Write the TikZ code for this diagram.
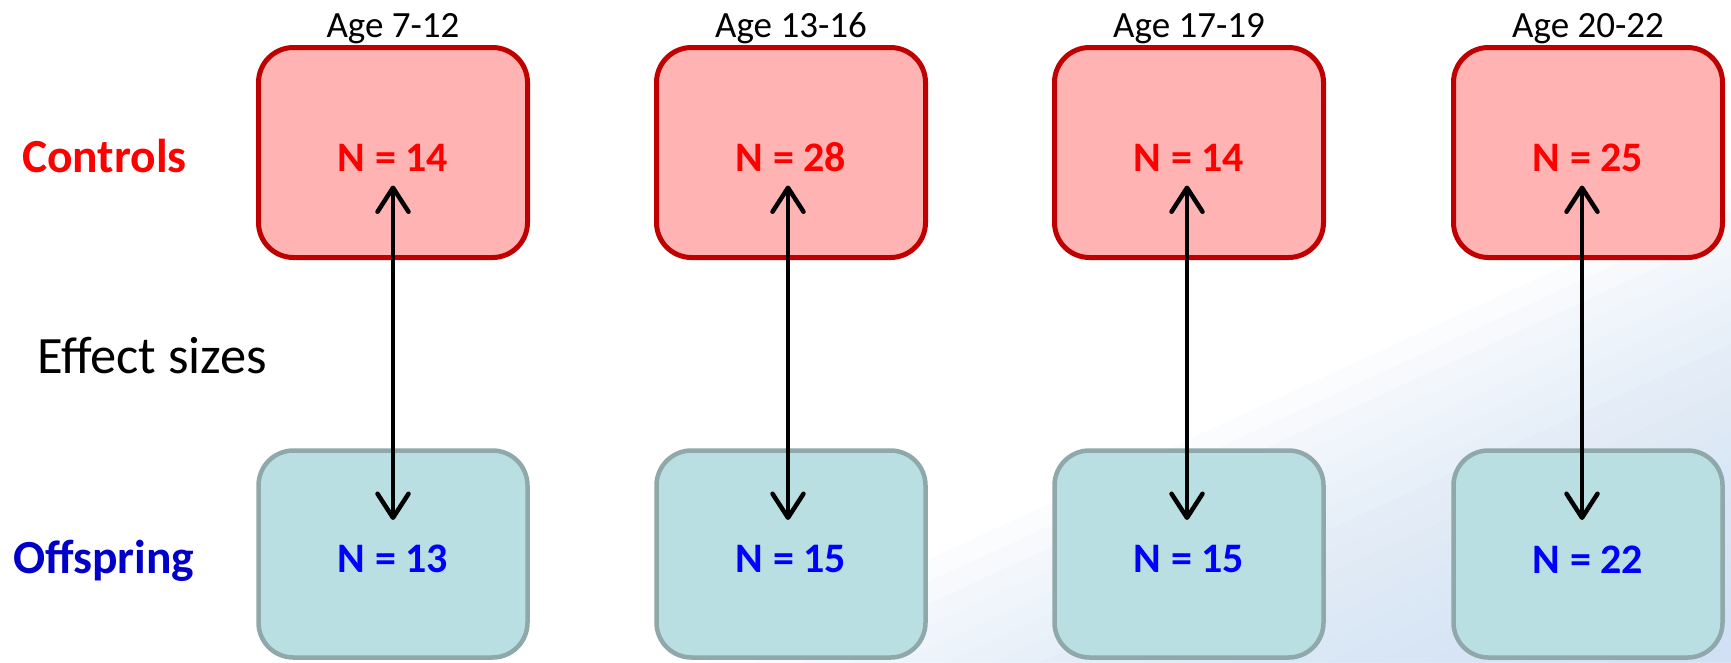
\documentclass[tikz,border=0pt]{standalone}
\usepackage{fontspec}
\setmainfont{Carlito}
\usetikzlibrary{arrows.meta,calc}
\definecolor{boxred}{RGB}{192,0,0}
\definecolor{fillred}{RGB}{255,179,179}
\definecolor{boxteal}{RGB}{143,168,170}
\definecolor{fillteal}{RGB}{185,223,226}
\definecolor{offblue}{RGB}{0,0,200}
\definecolor{bgblue}{RGB}{205,224,245}
\begin{document}
\begin{tikzpicture}[x=1pt,y=-1pt,
  ctrlbox/.style={draw=boxred, fill=fillred, line width=5pt, rounded corners=35pt,
    minimum width=269pt, minimum height=210pt, inner sep=0pt, text=red,
    text height=38pt, font=\fontsize{42}{50}\selectfont\bfseries},
  offbox/.style={draw=boxteal, fill=fillteal, line width=4.5pt, rounded corners=35pt,
    minimum width=269pt, minimum height=207pt, inner sep=0pt, text=blue,
    text height=38pt, font=\fontsize{42}{50}\selectfont\bfseries},
  agelabel/.style={anchor=base, inner sep=0pt, font=\fontsize{37}{44}\selectfont},
  rowlabel/.style={anchor=base west, inner sep=0pt, font=\fontsize{47.5}{56}\selectfont\bfseries},
  bgband/.style={fill=bgblue, opacity=0.08},
  effarrow/.style={line width=4pt,
    {Straight Barb[length=24pt,width=31pt,line width=4.5pt 0,round]}-{Straight Barb[length=24pt,width=31pt,line width=4.5pt 0,round]}}
]
\useasboundingbox (0,0) rectangle (1731,662);
\fill[white] (0,0) rectangle (1731,662);
% background: soft blue gradient in the lower right
\begin{scope}
  \clip (0,0) rectangle (1731,662);
  \foreach \s in {-60,-40,...,340} {
    \coordinate (p) at ($(850,662)+\s*(0.42,0.91)$);
    \fill[bgband] ($(p)+(2730,-1260)$) -- ($(p)+(-2730,1260)$)
      -- ($(p)+(-1470,3990)$) -- ($(p)+(3990,1470)$) -- cycle;
  }
\end{scope}

% row labels
\node[rowlabel, text=red] (lc) at (22,172) {Controls};
\node[anchor=base west, inner sep=0pt, font=\fontsize{52.5}{62}\selectfont] (le) at (37,373) {Effect sizes};
\node[rowlabel, text=offblue] (lo) at (13,573) {Offspring};

% age labels
\node[agelabel] (a1) at (393,37) {Age 7-12};
\node[agelabel] (a2) at (791,37) {Age 13-16};
\node[agelabel] (a3) at (1189,37) {Age 17-19};
\node[agelabel] (a4) at (1588,37) {Age 20-22};

% boxes
\node[ctrlbox] (c1) at (393,152.5) {N = 14};
\node[ctrlbox] (c2) at (791,152.5) {N = 28};
\node[ctrlbox] (c3) at (1189,152.5) {N = 14};
\node[ctrlbox] (c4) at (1588,152.5) {N = 25};

\node[offbox] (o1) at (393,554) {N = 13};
\node[offbox] (o2) at (791,554) {N = 15};
\node[offbox] (o3) at (1189,554) {N = 15};
\node[offbox] (o4) at (1588,554) {N = 22};

% arrows
\draw[effarrow] ($(c1.center)+(0,33)$) -- ($(o1.center)+(0,-34)$);
\draw[effarrow] ($(c2.center)+(-3,33)$) -- ($(o2.center)+(-3,-34)$);
\draw[effarrow] ($(c3.center)+(-2,33)$) -- ($(o3.center)+(-2,-34)$);
\draw[effarrow] ($(c4.center)+(-6,33)$) -- ($(o4.center)+(-6,-34)$);
\end{tikzpicture}
\end{document}
